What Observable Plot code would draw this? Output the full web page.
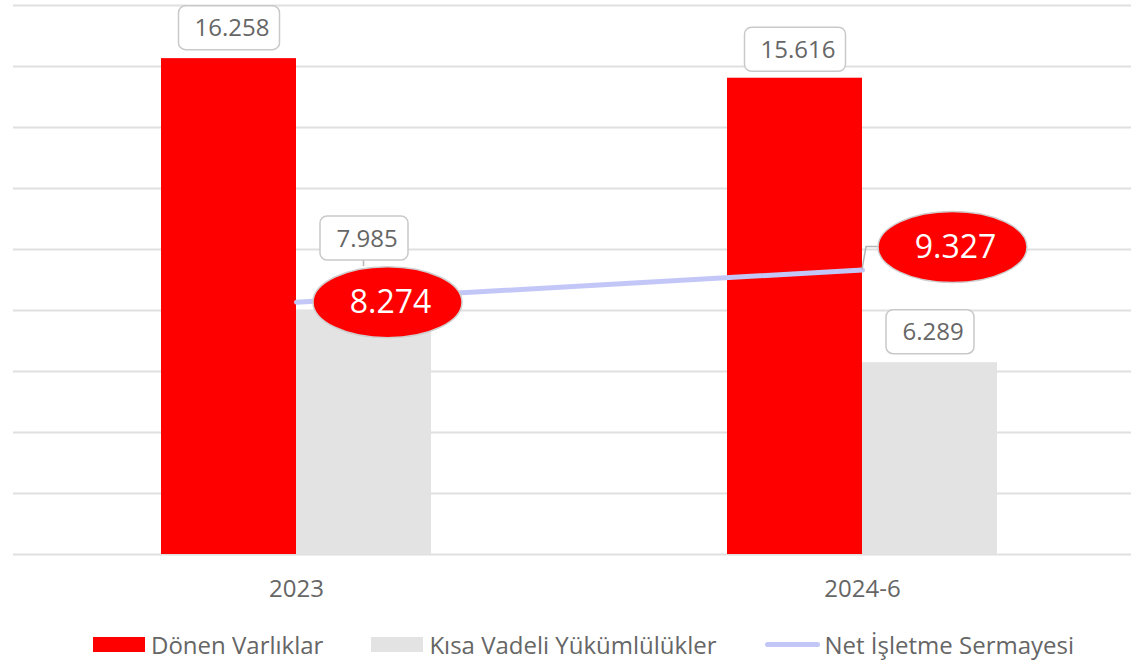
<!DOCTYPE html>
<html>
<head>
<meta charset="utf-8">
<script src="https://cdn.jsdelivr.net/npm/d3@7"></script>
<script src="https://cdn.jsdelivr.net/npm/@observablehq/plot@0.6"></script>
<style>
  html, body { margin: 0; padding: 0; background: #fff; }
  body { width: 1131px; height: 660px; overflow: hidden; font-family: "Open Sans", sans-serif; }
  #legend { display: flex; justify-content: center; align-items: center; height: 48px; color: #666; font-size: 24px; padding-left: 36px; }
  .item { display: flex; align-items: center; margin: 0 24px; }
  .sw { width: 52px; height: 15px; margin-right: 6px; }
  .ln { width: 55px; height: 5px; border-radius: 3px; margin-right: 5px; }
</style>
</head>
<body>
<div id="chart"></div>
<div id="legend"></div>
<script>
const categories = ["2023", "2024-6"];
const donenVarliklar = [16.258, 15.616];
const kisaVadeli = [7.985, 6.289];
const netIsletme = [8.274, 9.327];
const seriesNames = ["Dönen Varlıklar", "Kısa Vadeli Yükümlülükler", "Net İşletme Sermayesi"];
const seriesColors = ["#ff0000", "#e3e3e3", "#c3c7f7"];
const yTicks = [0, 2, 4, 6, 8, 10, 12, 14, 16, 18];

const fmt = v => v.toFixed(3);
const donenData = categories.map((c, i) => ({cat: c, value: donenVarliklar[i]}));
const kisaData = categories.map((c, i) => ({cat: c, value: kisaVadeli[i]}));
const netData = categories.map((c, i) => ({cat: c, value: netIsletme[i]}));

function roundRectSymbol(w, h, r) {
  return {draw(ctx) {
    const x0 = -w / 2, y0 = -h / 2, x1 = w / 2, y1 = h / 2;
    ctx.moveTo(x0 + r, y0);
    ctx.lineTo(x1 - r, y0); ctx.arcTo(x1, y0, x1, y0 + r, r);
    ctx.lineTo(x1, y1 - r); ctx.arcTo(x1, y1, x1 - r, y1, r);
    ctx.lineTo(x0 + r, y1); ctx.arcTo(x0, y1, x0, y1 - r, r);
    ctx.lineTo(x0, y0 + r); ctx.arcTo(x0, y0, x0 + r, y0, r);
    ctx.closePath();
  }};
}
function ellipseSymbol(rx, ry) {
  const k = 0.5523;
  return {draw(ctx) {
    ctx.moveTo(rx, 0);
    ctx.bezierCurveTo(rx, ry * k, rx * k, ry, 0, ry);
    ctx.bezierCurveTo(-rx * k, ry, -rx, ry * k, -rx, 0);
    ctx.bezierCurveTo(-rx, -ry * k, -rx * k, -ry, 0, -ry);
    ctx.bezierCurveTo(rx * k, -ry, rx, -ry * k, rx, 0);
    ctx.closePath();
  }};
}

function boxLabel(data, dx, dy) {
  const txt = fmt(data[0].value);
  const w = txt.length >= 6 ? 101 : 88;
  return [
    Plot.dot(data, {x: "cat", y: "value", dx, dy, symbol: roundRectSymbol(w, 44, 7), r: 1,
      fill: "white", stroke: "#c9c9c9", strokeWidth: 1.5}),
    Plot.text(data, {x: "cat", y: "value", dx: dx + 3, dy: dy + 1, text: d => fmt(d.value),
      fill: "#666", fontSize: 24})
  ];
}
function ovalLabel(data, dx, dy) {
  return [
    Plot.dot(data, {x: "cat", y: "value", dx, dy, symbol: ellipseSymbol(74.5, 35.5), r: 1,
      fill: "#ff0000", stroke: "#cfcfcf", strokeWidth: 1.5}),
    Plot.text(data, {x: "cat", y: "value", dx: dx + 3, dy: dy + 1, text: d => fmt(d.value),
      fill: "white", fontSize: 32})
  ];
}

const plot = Plot.plot({
  width: 1131,
  height: 620,
  marginTop: 5,
  marginBottom: 66,
  marginLeft: 13,
  marginRight: 0,
  style: {fontFamily: "Open Sans", fontSize: "24px", color: "#666", background: "white"},
  x: {domain: categories, range: [13, 1145], padding: 0, tickSize: 0, tickPadding: 25, label: null},
  y: {domain: [0, 18], axis: null},
  marks: [
    Plot.ruleY(yTicks, {stroke: "#e0e0e0", strokeWidth: 2}),
    Plot.barY(donenData, {x: "cat", y: "value", fill: seriesColors[0], insetLeft: 148, insetRight: 283}),
    Plot.barY(kisaData, {x: "cat", y: "value", fill: seriesColors[1], insetLeft: 283, insetRight: 148}),
    Plot.lineY(netData, {x: "cat", y: "value", stroke: seriesColors[2], strokeWidth: 5, strokeLinecap: "round"}),
    ...boxLabel(donenData.filter(d => d.cat === "2023"), -67.5, -31),
    ...boxLabel(donenData.filter(d => d.cat === "2024-6"), -67.5, -29),
    ...boxLabel(kisaData.filter(d => d.cat === "2023"), 67.5, -73),
    ...boxLabel(kisaData.filter(d => d.cat === "2024-6"), 67.5, -31),
    ...ovalLabel(netData.filter(d => d.cat === "2023"), 91, 0),
    ...ovalLabel(netData.filter(d => d.cat === "2024-6"), 90, -23)
  ]
});

// leader lines using the plot's scales
const xs = plot.scale("x"), ys = plot.scale("y");
const bw = xs.bandwidth;
const ns = "http://www.w3.org/2000/svg";
function addPath(d) {
  const p = document.createElementNS(ns, "path");
  p.setAttribute("d", d);
  p.setAttribute("fill", "none");
  p.setAttribute("stroke", "#b5b5b5");
  p.setAttribute("stroke-width", "1.5");
  plot.appendChild(p);
}
{
  const cx = xs.apply("2023") + bw / 2 + 67.5;
  const yb = ys.apply(kisaVadeli[0]) - 73 + 22;
  const ye = ys.apply(netIsletme[0]) - 35.5;
  addPath(`M${cx},${yb}V${ye}`);
}
{
  const cx = xs.apply("2024-6") + bw / 2;
  const y0 = ys.apply(netIsletme[1]);
  addPath(`M${cx},${y0}L${cx + 4},${y0 - 23}H${cx + 90 - 74.5}`);
}
// bring labels on top of leader lines
plot.querySelectorAll("g[aria-label='dot'], g[aria-label='text']").forEach(g => plot.appendChild(g));

document.getElementById("chart").appendChild(plot);

const legend = document.getElementById("legend");
seriesNames.forEach((name, i) => {
  const it = document.createElement("div");
  it.className = "item";
  const sw = document.createElement("div");
  sw.className = i === 2 ? "ln" : "sw";
  sw.style.background = seriesColors[i];
  const t = document.createElement("span");
  t.textContent = name;
  it.appendChild(sw); it.appendChild(t);
  legend.appendChild(it);
});
</script>
</body>
</html>
